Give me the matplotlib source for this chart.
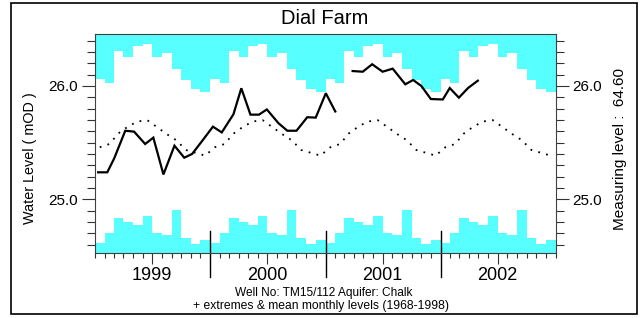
import matplotlib
matplotlib.use('Agg')
import matplotlib.pyplot as plt
import matplotlib.dates as mdates
from matplotlib.ticker import FixedLocator, MultipleLocator, FormatStrFormatter
from matplotlib.patches import Rectangle
import numpy as np
import pandas as pd

plt.rcParams['font.family'] = ['Liberation Sans', 'DejaVu Sans']

# ---------------- data ----------------
years = [1999, 2000, 2001, 2002]
# monthly extremes & mean (1968-1998), Jan..Dec
max_lvl = [26.062, 26.026, 26.306, 26.256, 26.350, 26.373,
           26.256, 26.291, 26.147, 26.050, 25.971, 25.947]
min_lvl = [24.614, 24.703, 24.835, 24.800, 24.773, 24.853,
           24.705, 24.685, 24.903, 24.656, 24.605, 24.643]
mean_lvl = [25.459, 25.488, 25.581, 25.643, 25.687, 25.698,
            25.638, 25.576, 25.521, 25.435, 25.410, 25.385]

obs_dates = ['1999-01-11', '1999-02-09', '1999-03-03', '1999-04-07', '1999-05-05',
             '1999-06-09', '1999-07-05', '1999-08-06', '1999-09-10', '1999-10-11',
             '1999-11-05', '1999-12-09',
             '2000-01-10', '2000-02-07', '2000-03-15', '2000-04-09', '2000-05-08',
             '2000-06-04', '2000-06-29', '2000-08-05', '2000-09-02', '2000-10-01',
             '2000-11-04', '2000-12-01',
             '2001-01-02', '2001-02-01', '2001-03-01',
             '2001-03-28', '2001-04-29', '2001-05-29', '2001-07-01', '2001-08-02',
             '2001-09-11', '2001-10-06', '2001-11-01', '2001-12-01',
             '2002-01-08', '2002-01-30', '2002-02-28', '2002-03-29', '2002-04-29']
obs_levels = [25.238, 25.238, 25.362, 25.605, 25.597,
              25.488, 25.544, 25.219, 25.473, 25.367,
              25.400, 25.523,
              25.641, 25.590, 25.750, 25.980, 25.747,
              25.747, 25.793, 25.671, 25.605, 25.605,
              25.724, 25.721,
              25.936, 25.775, np.nan,
              26.132, 26.126, 26.192, 26.126, 26.153,
              26.015, 26.053, 26.000, 25.885,
              25.881, 25.982, 25.897, 25.982, 26.047]

title = 'Dial Farm'
ylabel = 'Water Level ( mOD )'
rlabel = 'Measuring level :  64.60'
foot1 = 'Well No: TM15/112 Aquifer: Chalk'
foot2 = '+ extremes & mean monthly levels (1968-1998)'
cyan = '#57FFFF'

# ---------------- figure ----------------
fig = plt.figure(figsize=(6.4, 3.18), dpi=100)
ax = fig.add_axes([95/640, 1-253.3/318, 460.7/640, 219.3/318])

start = pd.Timestamp(f'{years[0]}-01-01')
end = pd.Timestamp(f'{years[-1]+1}-01-01')
edges = pd.date_range(start, end, freq='MS')
xe = mdates.date2num(edges.to_pydatetime())
n = len(years)
mx = np.tile(max_lvl, n)
mn = np.tile(min_lvl, n)
ax.fill_between(xe, np.append(mx, mx[-1]), 30, step='post', color=cyan, lw=0)
ax.fill_between(xe, 20, np.append(mn, mn[-1]), step='post', color=cyan, lw=0)

mids = edges[:-1] + pd.Timedelta(days=15)
ax.plot(mdates.date2num(mids.to_pydatetime()), np.tile(mean_lvl, n),
        color='black', lw=1.3, ls=(0, (1, 3.5)))

od = mdates.date2num(pd.to_datetime(obs_dates).to_pydatetime())
ax.plot(od, obs_levels, color='black', lw=1.6, solid_joinstyle='miter')

ax.set_xlim(xe[0], xe[-1])
ax.set_ylim(24.523, 26.459)

ax.yaxis.set_major_locator(FixedLocator([25.0, 26.0]))
ax.yaxis.set_minor_locator(MultipleLocator(0.1))
ax.yaxis.set_major_formatter(FormatStrFormatter('%.1f'))
ax.tick_params(axis='y', which='major', length=9.6, width=0.8, color='#333333',
               labelsize=11, left=True, right=True, labelleft=True, labelright=True, pad=2.5)
ax.tick_params(axis='y', which='minor', length=5.5, width=0.8, color='#333333',
               left=True, right=True)

ax.xaxis.set_minor_locator(mdates.MonthLocator())
ax.xaxis.set_major_locator(mdates.MonthLocator(bymonth=7))
ax.xaxis.set_major_formatter(mdates.DateFormatter('%Y'))
ax.tick_params(axis='x', which='major', length=7.7, width=0.8, color='#333333',
               labelsize=13, pad=2.5)
ax.tick_params(axis='x', which='minor', length=3.6, width=0.8, color='#333333')

for s in ax.spines.values():
    s.set_color('#404040')
    s.set_linewidth(0.8)

for y in years[1:]:
    ax.axvline(mdates.date2num(pd.Timestamp(f'{y}-01-01').to_pydatetime()),
               ymin=-0.108, ymax=0.102, color='black', lw=1.0, clip_on=False)

fig.text(325/640, 1-18/318, title, ha='center', va='center', fontsize=14.5)
fig.text(30/640, 1-158.5/318, ylabel, rotation=90, ha='center', va='center', fontsize=10.4)
fig.text(620/640, 1-149/318, rlabel, rotation=90, ha='center', va='center', fontsize=11.0)
fig.text(324/640, 1-293/318, foot1, ha='center', va='center', fontsize=8.6)
fig.text(321/640, 1-306.5/318, foot2, ha='center', va='center', fontsize=8.7)

fig.add_artist(Rectangle((11/640, 1-314/318), 626/640, 311/318,
                         transform=fig.transFigure, fill=False, ec='black', lw=1.2))

fig.savefig('out.png', dpi=100)
